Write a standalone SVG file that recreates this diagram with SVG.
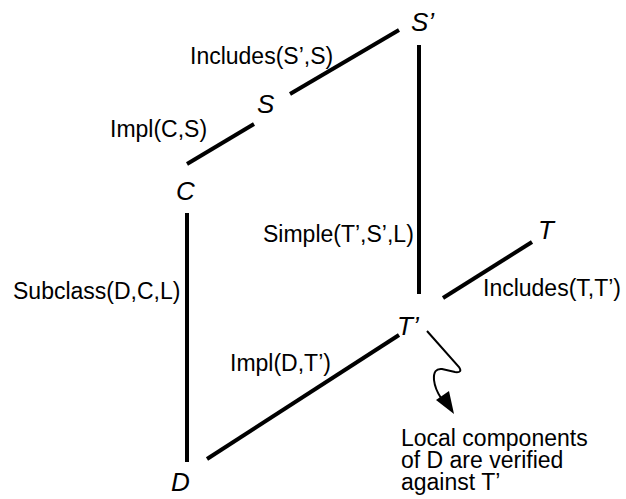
<svg xmlns="http://www.w3.org/2000/svg" width="626" height="499" viewBox="0 0 626 499">
<style>
  text { font-family: "Liberation Sans", Arial, sans-serif; font-size: 23px; fill: #000; }
  .node { font-style: italic; font-size: 26px; }
  .edge { stroke: #000; stroke-width: 4; fill: none; }
  .note { stroke: #000; stroke-width: 2; fill: none; }
  .head { fill: #000; stroke: none; }
</style>
<rect width="626" height="499" fill="#fff"/>
<g id="connectors">
  <line class="edge" x1="290" y1="94" x2="399" y2="30"/>
  <line class="edge" x1="187" y1="164" x2="254" y2="124"/>
  <line class="edge" x1="419" y1="45" x2="419" y2="294"/>
  <line class="edge" x1="443" y1="298" x2="532" y2="242"/>
  <line class="edge" x1="207" y1="459" x2="399" y2="335"/>
  <line class="edge" x1="187" y1="213" x2="187" y2="462"/>
  <path class="note" d="M427,331 L459,367 Q463,373 455,372 L442,369 Q433,368 434,380 Q435,389 441,398"/>
  <polygon class="head" points="454,414 436,400 449,391"/>
  <text x="190" y="64">Includes(S’,S)</text>
  <text x="110" y="137">Impl(C,S)</text>
  <text x="13" y="299">Subclass(D,C,L)</text>
  <text x="263" y="242">Simple(T’,S’,L)</text>
  <text x="483" y="296">Includes(T,T’)</text>
  <text x="230" y="371">Impl(D,T’)</text>
</g>
<g id="node-Sp"><text class="node" x="411" y="31">S’</text></g>
<g id="node-S"><text class="node" x="257" y="113">S</text></g>
<g id="node-C"><text class="node" x="176" y="200">C</text></g>
<g id="node-T"><text class="node" x="538" y="239">T</text></g>
<g id="node-Tp"><text class="node" x="397" y="335">T’</text></g>
<g id="node-D"><text class="node" x="171" y="491">D</text></g>
<g id="note">
  <text x="401" y="446">Local components</text>
  <text x="401" y="468">of D are verified</text>
  <text x="401" y="490">against T’</text>
</g>
</svg>
